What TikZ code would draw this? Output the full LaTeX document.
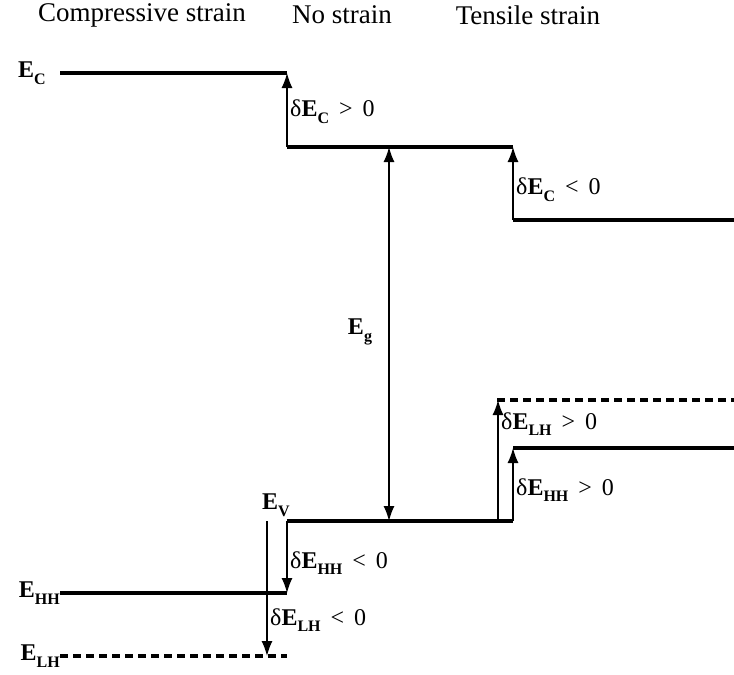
\documentclass[tikz,border=0pt]{standalone}
\usepackage{fontspec}
\setmainfont{Liberation Serif}
\usetikzlibrary{arrows.meta}
\newcommand{\lsub}[1]{\raisebox{-0.28em}{\fontsize{16}{16}\selectfont\bfseries #1}}
\newcommand{\lE}[1]{\textbf{E}\lsub{#1}}
\begin{document}
\begin{tikzpicture}[x=1pt,y=-1pt,
  lev/.style={line width=3.6pt},
  dlev/.style={line width=3.6pt, dash pattern=on 8pt off 5pt},
  darr/.style={line width=1.4pt, -{Latex[length=15pt,width=11pt]}},
  ddarr/.style={line width=1.4pt, {Latex[length=15pt,width=11pt]}-{Latex[length=15pt,width=11pt]}},
  lbl/.style={font=\fontsize{24}{26}\selectfont, inner sep=0pt},
  ttl/.style={font=\fontsize{27}{29}\selectfont, inner sep=0pt}]
\useasboundingbox (0,0) rectangle (734,675);
% titles
\node[ttl] (t1) at (142,15) {Compressive strain};
\node[ttl] (t2) at (342,15) {No strain};
\node[ttl] (t3) at (528,15) {Tensile strain};
% level coordinates
\coordinate (ec0) at (60,73);   \coordinate (ec1) at (287,73);
\coordinate (cb0a) at (287,147); \coordinate (cb0b) at (513,147);
\coordinate (cbta) at (513,220); \coordinate (cbtb) at (734,220);
\coordinate (lhta) at (497,400); \coordinate (lhtb) at (734,400);
\coordinate (hhta) at (513,448); \coordinate (hhtb) at (734,448);
\coordinate (vb0a) at (287,521); \coordinate (vb0b) at (513,521);
\coordinate (hhca) at (60,593);  \coordinate (hhcb) at (287,593);
\coordinate (lhca) at (60,656);  \coordinate (lhcb) at (287,656);
\coordinate (egt) at (389,147);  \coordinate (egb) at (389,521);
\coordinate (lhs) at (498,521);  \coordinate (lhe) at (498,400);
\coordinate (lcs) at (267,521);  \coordinate (lce) at (267,656);
% levels
\draw[lev] (ec0) -- (ec1);
\draw[lev] (cb0a) -- (cb0b);
\draw[lev] (cbta) -- (cbtb);
\draw[dlev] (lhta) -- (lhtb);
\draw[lev] (hhta) -- (hhtb);
\draw[lev] (vb0a) -- (vb0b);
\draw[lev] (hhca) -- (hhcb);
\draw[dlev] (lhca) -- (lhcb);
% arrows
\draw[darr] (cb0a) -- (ec1);
\draw[darr] (cbta) -- (cb0b);
\draw[ddarr] (egt) -- (egb);
\draw[darr] (lhs) -- (lhe);
\draw[darr] (vb0b) -- (hhta);
\draw[darr] (vb0a) -- (hhcb);
\draw[darr] (lcs) -- (lce);
% labels
\node[lbl,anchor=east] (lec) at (46,73) {\lE{C}};
\node[lbl,anchor=east] (lehh) at (60,593) {\lE{HH}};
\node[lbl,anchor=east] (lelh) at (60,656) {\lE{LH}};
\node[lbl] (lev) at (276,505) {\lE{V}};
\node[lbl] (leg) at (360,332) {\lE{g}};
\node[lbl,anchor=west] (dc1) at (290,112) {δ\lE{C} \,>\, 0};
\node[lbl,anchor=west] (dc2) at (516,190) {δ\lE{C} \,<\, 0};
\node[lbl,anchor=west] (dl1) at (501,424) {δ\lE{LH} \,>\, 0};
\node[lbl,anchor=west] (dh1) at (516,490) {δ\lE{HH} \,>\, 0};
\node[lbl,anchor=west] (dh2) at (290,563) {δ\lE{HH} \,<\, 0};
\node[lbl,anchor=west] (dl2) at (270,620) {δ\lE{LH} \,<\, 0};
\end{tikzpicture}
\end{document}
